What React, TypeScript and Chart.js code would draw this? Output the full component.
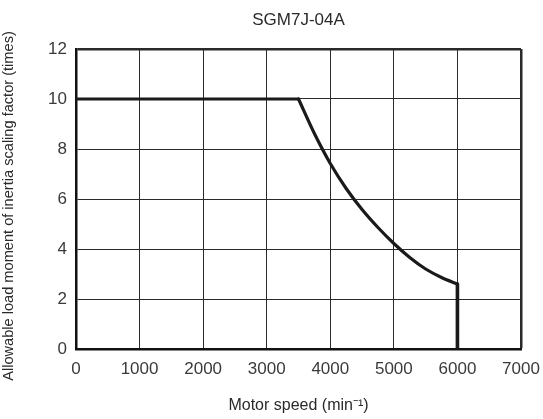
import React, { useEffect, useRef } from "react";
import { Chart, registerables } from "chart.js";

Chart.register(...registerables);

const flatSpeeds = [0, 3500];
const flatFactors = [10, 10];
const curveSpeeds = [3500, 3750, 4000, 4250, 4500, 4750, 5000, 5250, 5500, 5750, 6000];
const curveFactors = [10, 8.62, 7.42, 6.42, 5.58, 4.86, 4.22, 3.66, 3.2, 2.86, 2.6];
const dropSpeeds = [6000, 6000];
const dropFactors = [2.6, 0];
const xTicks = [0, 1000, 2000, 3000, 4000, 5000, 6000, 7000];
const yTicks = [0, 2, 4, 6, 8, 10, 12];
const titleText = "SGM7J-04A";
const xTitle = "Motor speed (min⁻¹)";
const yTitle = "Allowable load moment of inertia scaling factor (times)";

const FONT = "'Liberation Sans', Arial, sans-serif";

const toPoints = (xs: number[], ys: number[]) => xs.map((x, i) => ({ x, y: ys[i] }));

const textPlugin = {
  id: "chartTexts",
  afterDraw(chart: any) {
    const { ctx, chartArea } = chart;
    ctx.save();
    ctx.font = `17px ${FONT}`;
    ctx.fillStyle = "#2a2a2a";
    ctx.textAlign = "center";
    ctx.textBaseline = "alphabetic";
    ctx.fillText(titleText, (chartArea.left + chartArea.right) / 2, 25);
    ctx.restore();

    ctx.save();
    ctx.font = `14.6px ${FONT}`;
    ctx.fillStyle = "#2a2a2a";
    ctx.textAlign = "center";
    ctx.textBaseline = "middle";
    ctx.translate(8.5, chartArea.bottom - 143);
    ctx.rotate(-Math.PI / 2);
    ctx.fillText(yTitle, 0, 0);
    ctx.restore();
  },
};

export default function App() {
  const ref = useRef<HTMLCanvasElement>(null);
  useEffect(() => {
    if (!ref.current) return;
    const lineStyle = {
      borderColor: "#1a1a1a",
      borderWidth: 3.2,
      pointRadius: 0,
      fill: false,
      borderCapStyle: "round" as const,
      borderJoinStyle: "round" as const,
    };
    const chart = new Chart(ref.current, {
      type: "line",
      data: {
        datasets: [
          { ...lineStyle, data: toPoints(flatSpeeds, flatFactors), tension: 0 },
          { ...lineStyle, data: toPoints(curveSpeeds, curveFactors), cubicInterpolationMode: "monotone" },
          { ...lineStyle, borderWidth: 3.6, borderCapStyle: "butt", data: toPoints(dropSpeeds, dropFactors), tension: 0 },
        ],
      },
      plugins: [textPlugin],
      options: {
        animation: false,
        responsive: false,
        maintainAspectRatio: false,
        layout: { padding: { left: 0, right: 22, top: 49, bottom: 0 } },
        plugins: {
          legend: { display: false },
          tooltip: { enabled: false },
          title: { display: false },
        },
        scales: {
          x: {
            type: "linear",
            min: 0,
            max: 7000,
            afterBuildTicks: (s: any) => {
              s.ticks = xTicks.map((v) => ({ value: v }));
            },
            afterFit: (s: any) => {
              s.height = 70;
              s.paddingLeft = 0;
              s.paddingRight = 0;
            },
            ticks: {
              color: "#3a3a3a",
              font: { family: FONT, size: 17 },
              padding: 10,
              maxRotation: 0,
              autoSkip: false,
              callback: (v: any) => String(v),
            },
            grid: {
              color: "#2a2a2a",
              lineWidth: (c: any) => (c.index === xTicks.length - 1 ? 2.5 : 1),
              drawTicks: false,
            },
            border: { display: true, color: "#111", width: 2.5 },
            title: {
              display: true,
              text: xTitle,
              color: "#2a2a2a",
              font: { family: FONT, size: 16 },
              padding: { top: 0, bottom: 4 },
            },
          },
          y: {
            type: "linear",
            min: 0,
            max: 12,
            afterBuildTicks: (s: any) => {
              s.ticks = yTicks.map((v) => ({ value: v }));
            },
            afterFit: (s: any) => {
              s.width = 76;
              s.paddingTop = 0;
              s.paddingBottom = 0;
            },
            ticks: {
              color: "#3a3a3a",
              font: { family: FONT, size: 17 },
              padding: 9,
              autoSkip: false,
              callback: (v: any) => String(v),
            },
            grid: {
              color: "#2a2a2a",
              lineWidth: (c: any) => (c.index === yTicks.length - 1 ? 2.5 : 1),
              drawTicks: false,
            },
            border: { display: true, color: "#111", width: 2.5 },
            title: { display: false },
          },
        },
      },
    });
    return () => chart.destroy();
  }, []);
  return (
    <div style={{ position: "fixed", left: 0, top: 0, width: 543, height: 419, background: "#fff" }}>
      <canvas ref={ref} width={543} height={419} />
    </div>
  );
}
